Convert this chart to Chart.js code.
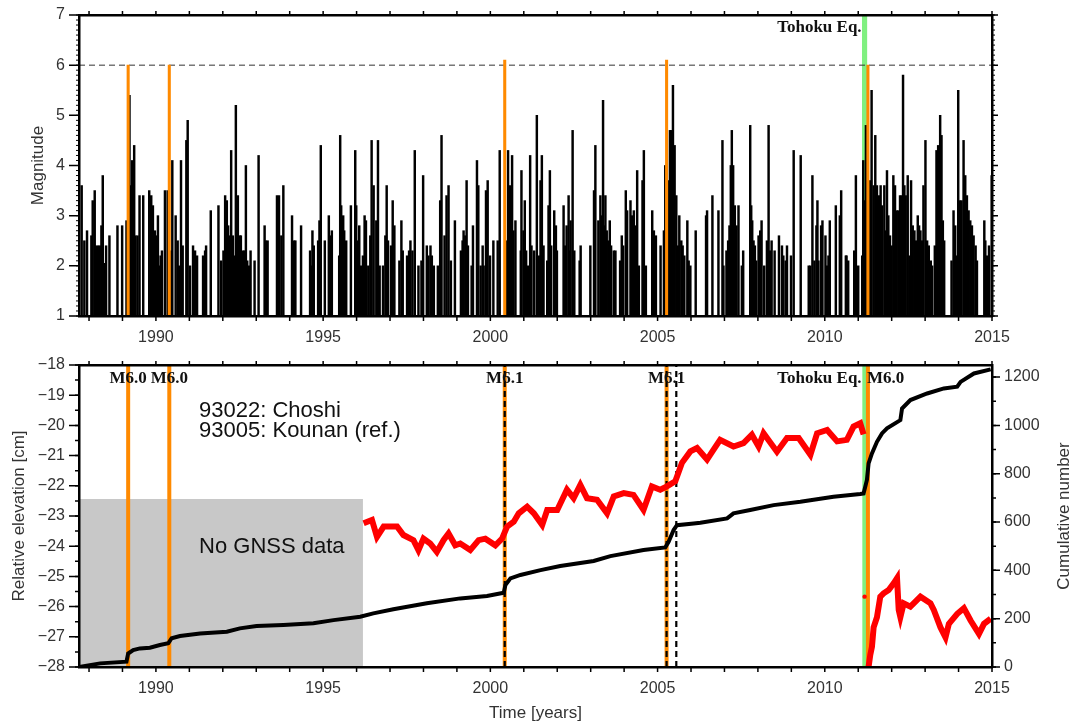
<!DOCTYPE html>
<html>
<head>
<meta charset="utf-8">
<title>Choshi seismicity and elevation</title>
<script src="https://cdn.jsdelivr.net/npm/chart.js@4.4.0/dist/chart.umd.min.js"></script>
<style>
  html, body { margin: 0; padding: 0; background: #fff; }
  canvas { position: absolute; left: 0; }
  #topChart { top: 0; }
  #bottomChart { top: 350px; }
</style>
</head>
<body>
<canvas id="topChart" width="1075" height="350"></canvas>
<canvas id="bottomChart" width="1075" height="377"></canvas>
<script>
// ---------------------------------------------------------------
// DATA
// ---------------------------------------------------------------

const X_MIN = 1987.7;
const X_MAX = 2015;
const yearLabels = [1990, 1995, 2000, 2005, 2010, 2015];
const magTicks = [1, 2, 3, 4, 5, 6, 7];
const elevTicks = [-28, -27, -26, -25, -24, -23, -22, -21, -20, -19, -18];
const cumTicks = [0, 200, 400, 600, 800, 1000, 1200];

// [decimal year, magnitude] for events drawn as black sticks
const quakes = [
  [1987.78,3.6],[1987.86,2.5],[1987.94,2.7],[1988.07,2.6],[1988.11,3.3],[1988.17,3.5],[1988.21,2.4],[1988.27,2.4],
  [1988.32,2.4],[1988.37,2.8],[1988.41,3.8],[1988.45,2.05],[1988.51,2.4],[1988.61,2.6],[1988.85,2.8],[1988.99,2.8],
  [1989.12,2.9],[1989.21,5.4],[1989.26,3.6],[1989.29,4.1],[1989.35,4.4],[1989.39,2.6],[1989.45,2.6],[1989.51,3.4],
  [1989.62,3.4],[1989.80,3.5],[1989.86,3.4],[1989.91,3.2],[1989.97,2.7],[1990.02,2.6],[1990.06,3.0],[1990.10,2.0],
  [1990.14,2.2],[1990.18,2.3],[1990.27,3.5],[1990.35,3.5],[1990.45,2.3],[1990.49,4.1],[1990.59,3.0],[1990.65,2.5],
  [1990.69,2.0],[1990.75,4.1],[1990.80,2.4],[1990.91,4.5],[1990.95,4.9],[1991.02,2.0],[1991.11,2.4],[1991.17,2.3],
  [1991.23,2.2],[1991.41,2.2],[1991.47,2.3],[1991.50,2.4],[1991.64,3.1],[1991.87,3.2],[1991.95,2.1],[1992.02,2.3],
  [1992.07,3.4],[1992.12,3.3],[1992.16,2.8],[1992.21,2.6],[1992.25,4.3],[1992.30,2.6],
  [1992.35,2.2],[1992.39,5.2],[1992.45,3.4],[1992.51,2.6],[1992.54,2.6],[1992.61,2.3],[1992.65,2.3],[1992.69,4.0],
  [1992.73,2.1],[1992.79,2.0],[1992.83,2.3],[1992.95,2.1],[1993.07,4.2],[1993.25,2.8],[1993.29,2.5],[1993.34,2.5],
  [1993.62,3.4],[1993.68,3.4],[1993.75,2.6],[1993.81,3.6],[1994.07,3.0],[1994.13,2.5],[1994.17,2.5],[1994.34,2.8],
  [1994.61,2.3],[1994.64,2.0],[1994.68,2.7],[1994.72,2.4],[1994.85,2.5],[1994.89,2.9],[1994.93,4.4],[1995.05,2.5],
  [1995.17,3.0],[1995.21,2.6],[1995.26,2.7],[1995.48,2.2],[1995.51,4.6],[1995.54,3.2],[1995.60,3.0],[1995.63,2.7],
  [1995.69,2.5],[1995.83,3.2],[1995.96,4.3],[1995.99,3.2],[1996.03,2.5],[1996.08,2.8],[1996.13,2.0],[1996.19,2.2],
  [1996.24,3.0],[1996.28,2.9],[1996.35,2.0],[1996.41,2.6],[1996.45,4.5],[1996.51,3.6],[1996.59,2.9],[1996.64,4.5],
  [1996.69,2.0],[1996.79,2.0],[1996.86,2.6],[1996.90,3.6],
  [1996.94,2.5],[1997.03,2.4],[1997.08,3.3],[1997.13,2.8],[1997.28,2.1],[1997.34,2.9],[1997.38,2.3],[1997.51,2.2],
  [1997.57,2.3],[1997.61,2.5],[1997.67,2.3],[1997.74,4.3],[1997.85,2.0],[1997.94,2.1],[1997.99,3.8],[1998.10,2.4],
  [1998.15,2.2],[1998.21,2.4],[1998.25,2.2],[1998.31,2.0],[1998.43,2.0],[1998.50,3.3],[1998.54,4.6],[1998.63,2.6],
  [1998.69,3.4],[1998.75,3.6],[1998.82,2.1],[1998.94,2.9],[1999.12,2.3],[1999.17,2.5],[1999.20,2.7],[1999.25,2.6],
  [1999.29,3.7],[1999.33,2.4],[1999.44,2.0],[1999.48,2.8],[1999.60,4.1],[1999.64,3.6],[1999.71,2.0],[1999.77,2.4],
  [1999.80,2.0],[1999.87,3.5],[1999.92,3.7],[1999.99,2.2],[2000.09,2.5],[2000.22,2.5],[2000.28,4.3],[2000.49,2.5],
  [2000.53,4.3],[2000.58,3.6],[2000.65,4.2],[2000.69,2.7],[2000.75,2.9],[2000.91,2.3],[2000.93,3.9],[2000.99,2.7],
  [2001.03,3.3],[2001.07,2.3],[2001.13,2.0],[2001.19,4.2],[2001.23,2.4],[2001.31,2.3],[2001.39,5.0],
  [2001.46,2.2],[2001.50,3.7],[2001.54,4.2],[2001.59,2.4],[2001.70,2.1],[2001.74,3.2],[2001.78,3.9],[2001.82,2.4],
  [2001.91,3.1],[2001.96,2.8],[2001.99,2.3],[2002.19,3.2],[2002.24,2.4],[2002.28,2.8],[2002.34,3.4],[2002.37,2.3],
  [2002.40,2.9],[2002.46,4.7],[2002.51,2.3],[2002.67,2.1],[2002.70,2.4],[2002.99,2.4],[2003.10,3.5],[2003.14,4.4],
  [2003.23,2.9],[2003.29,3.4],[2003.33,3.0],[2003.37,5.3],[2003.40,2.8],[2003.44,3.4],[2003.48,2.7],[2003.53,2.5],
  [2003.57,2.9],[2003.61,2.4],[2003.69,2.3],[2003.74,2.3],[2003.88,2.1],[2003.93,2.6],[2003.97,2.4],[2004.05,3.5],
  [2004.09,3.1],[2004.19,3.3],[2004.23,3.0],[2004.29,3.1],[2004.33,2.8],[2004.39,3.9],[2004.44,2.0],[2004.55,3.7],
  [2004.59,4.3],[2004.65,2.0],[2004.84,3.1],[2004.89,2.7],[2004.95,2.6],[2005.09,2.4],[2005.19,2.7],[2005.23,4.0],
  [2005.33,3.7],[2005.37,4.7],[2005.41,4.7],[2005.46,5.6],[2005.51,4.4],[2005.56,3.4],[2005.61,2.4],[2005.65,3.0],
  [2005.71,2.5],[2005.75,2.4],[2005.80,2.2],[2005.89,2.9],[2005.93,2.1],[2005.98,2.0],
  [2006.14,2.7],[2006.45,3.0],[2006.48,3.1],[2006.64,3.4],[2006.82,3.1],[2006.94,4.5],[2006.97,2.0],[2007.06,2.3],
  [2007.11,2.5],[2007.15,2.8],[2007.19,4.0],[2007.22,4.7],[2007.26,4.0],[2007.31,3.2],[2007.36,2.8],[2007.42,3.2],
  [2007.52,2.0],[2007.56,2.3],[2007.77,4.8],[2007.80,3.2],[2007.83,2.9],[2007.87,2.5],[2007.91,2.4],[2007.95,2.1],
  [2008.02,2.6],[2008.07,2.7],[2008.11,2.9],[2008.19,2.0],[2008.27,2.5],[2008.32,4.8],[2008.36,2.3],[2008.41,2.5],
  [2008.50,2.3],[2008.63,2.6],[2008.72,2.4],[2008.76,2.2],[2008.83,2.1],[2008.87,2.4],[2008.99,2.2],[2009.07,4.3],
  [2009.28,4.2],[2009.52,2.0],[2009.57,2.0],[2009.63,3.8],[2009.69,2.1],[2009.75,2.8],[2009.78,3.3],[2009.81,2.1],
  [2009.89,2.8],[2009.93,2.9],[2010.02,2.6],[2010.07,2.0],[2010.11,2.2],[2010.15,2.9],[2010.33,3.2],[2010.45,3.0],
  [2010.49,3.5],[2010.63,2.2],
  [2010.65,2.2],[2010.70,2.1],[2010.88,2.3],[2010.93,3.8],[2011.00,2.0],[2011.12,2.2],[2011.15,4.1],[2011.18,3.3],
  [2011.23,4.8],[2011.26,4.3],[2011.35,3.7],[2011.40,5.5],[2011.46,3.6],[2011.51,4.6],[2011.56,3.6],[2011.62,3.4],
  [2011.67,3.6],[2011.71,3.2],[2011.78,3.6],[2011.82,2.7],[2011.86,3.9],[2011.90,3.0],[2011.95,2.6],[2012.00,2.4],
  [2012.05,3.8],[2012.10,3.6],[2012.15,3.1],[2012.20,3.1],[2012.25,3.4],[2012.30,3.4],[2012.34,5.8],[2012.38,3.6],
  [2012.42,3.4],[2012.48,3.8],[2012.53,2.2],[2012.58,3.7],[2012.63,2.8],[2012.68,2.7],[2012.73,2.5],[2012.78,3.0],
  [2012.82,2.8],[2012.86,2.7],[2012.91,2.5],[2012.95,3.6],[2013.01,4.5],[2013.06,2.5],[2013.11,2.4],[2013.17,2.1],
  [2013.21,2.0],[2013.29,2.4],[2013.34,4.3],[2013.39,4.4],[2013.45,5.0],[2013.49,4.6],[2013.53,2.9],[2013.57,2.5],
  [2013.79,2.1],[2013.85,3.1],[2013.90,2.8],[2013.95,2.2],[2013.99,5.5],[2014.04,3.3],[2014.09,3.3],[2014.15,4.5],
  [2014.20,3.8],[2014.25,3.4],[2014.30,3.1],[2014.35,2.9],[2014.40,2.8],[2014.45,2.6],[2014.51,2.4],[2014.55,2.1],
  [2014.77,2.9],[2014.80,2.5],[2014.85,2.2],[2014.91,2.4],[2014.99,3.8]
];

// M6-class events (orange) and the Tohoku mainshock (green)
const bigQuakes = [[1989.17, 6.0], [1990.40, 6.0], [2000.43, 6.1], [2005.27, 6.1], [2011.29, 6.0]];
const bigLabels = ['M6.0', 'M6.0', 'M6.1', 'M6.1', 'M6.0'];
const tohoku = [2011.19, 9.0];
const dashedYears = [2000.43, 2005.27, 2005.56];

// 93022 Choshi relative to 93005 Kounan [cm]
const elevYears = [1996.21,1996.46,1996.61,1996.81,1997.21,1997.40,1997.70,1997.85,1998.00,1998.20,1998.40,1998.60,
  1998.75,1998.95,1999.10,1999.40,1999.65,1999.85,2000.15,2000.35,2000.50,2000.70,2000.85,2001.10,2001.30,2001.55,
  2001.70,2002.00,2002.29,2002.49,2002.69,2002.89,2003.19,2003.49,2003.69,2003.99,2004.28,2004.58,2004.83,2005.08,
  2005.28,2005.53,2005.73,2005.98,2006.18,2006.48,2006.67,2006.87,2007.27,2007.57,2007.82,2008.02,2008.17,2008.57,
  2008.87,2009.22,2009.57,2009.77,2010.07,2010.37,2010.66,2010.86,2011.06,2011.16];
const elevValues = [-23.24,-23.13,-23.69,-23.35,-23.35,-23.63,-23.80,-24.13,-23.75,-23.91,-24.19,-23.80,
  -23.58,-23.97,-23.91,-24.13,-23.80,-23.75,-23.97,-23.75,-23.35,-23.19,-22.91,-22.69,-22.91,-23.30,
  -22.80,-22.80,-22.13,-22.41,-21.97,-22.41,-22.46,-22.91,-22.35,-22.24,-22.30,-22.80,-22.02,-22.13,
  -22.02,-21.85,-21.24,-20.86,-20.75,-21.13,-20.81,-20.48,-20.70,-20.59,-20.31,-20.70,-20.26,-20.87,
  -20.42,-20.42,-20.97,-20.26,-20.15,-20.53,-20.48,-20.04,-19.93,-20.30];
const elevCoseismic = [[2011.19, -25.67]];
const elevPostYears = [2011.31,2011.36,2011.41,2011.46,2011.56,2011.66,2011.76,2011.91,2012.06,2012.16,2012.21,
  2012.26,2012.36,2012.56,2012.86,2013.16,2013.26,2013.46,2013.61,2013.71,2013.96,2014.16,2014.36,2014.61,2014.76,2014.96];
const elevPostValues = [-27.99,-27.60,-27.33,-26.69,-26.35,-25.67,-25.56,-25.45,-25.23,-25.06,-26.11,
  -26.35,-25.89,-26.00,-25.67,-25.89,-26.11,-26.69,-27.02,-26.57,-26.24,-26.05,-26.46,-26.90,-26.57,-26.40];

// cumulative number of events
const cumYears = [1987.70,1988.33,1989.12,1989.17,1989.32,1989.52,1989.82,1990.12,1990.37,1990.47,1990.72,1991.32,
  1992.12,1992.51,1993.01,1993.81,1994.71,1995.31,1996.11,1996.50,1997.10,1998.10,1999.10,1999.90,2000.40,2000.45,
  2000.60,2000.90,2001.50,2002.09,2003.09,2003.59,2004.58,2005.23,2005.33,2005.48,2005.58,2006.08,2006.28,2007.08,
  2007.27,2007.77,2008.47,2009.27,2010.26,2011.06,2011.16,2011.26,2011.31,2011.41,2011.56,2011.71,2011.86,2012.26,
  2012.31,2012.56,2013.06,2013.56,2013.96,2014.06,2014.46,2014.96];
const cumCounts = [0,15,22,56,70,77,80,91,98,119,128,139,
  146,160,170,174,181,194,208,222,239,264,284,294,307,339,
  367,381,401,418,439,459,484,495,518,567,587,594,597,615,
  636,650,670,684,705,716,718,774,843,884,932,967,988,1022,
  1070,1105,1132,1153,1160,1180,1215,1232];

// no GNSS data before this
const noGnssEnd = 1996.19;
const noGnssTop = -22.44;

// ---------------------------------------------------------------
// STYLE & HELPERS
// ---------------------------------------------------------------

const SANS = '"Liberation Sans", Arial, sans-serif';
const SERIF = '"Liberation Serif", "Times New Roman", serif';
const ORANGE = '#ff8a00';
const GREEN = '#80f080';
const tickFont = { family: SANS, size: 16 };
const titleFont = { family: SANS, size: 17 };
const noteSerif = 'bold 17px ' + SERIF;
const frame = { display: true, color: '#000', width: 2.5, z: 1 };
const noGrid = { display: false, drawTicks: false };

// fixed axis sizes; label overflow padding is dropped so the plot box stays put
const fixWidth = w => s => { s.width = w; s.paddingTop = 0; s.paddingBottom = 0; };
const fixHeight = h => s => { s.height = h; };
const setTicks = vals => s => { s.ticks = vals.map(v => ({ value: v })); };
const plainLabel = v => String(v).replace('-', '\u2212');
const pts = (xs, ys) => xs.map((x, i) => ({ x, y: ys[i] }));

// tick marks on all four sides (major + minor)
const axisTicksPlugin = {
  id: 'axisTicks',
  afterDraw(chart, args, opts) {
    const { ctx, chartArea: a } = chart;
    ctx.save();
    ctx.strokeStyle = '#000';
    (opts.marks || []).forEach(m => {
      const s = chart.scales[m.scale];
      const n = Math.round((m.to - m.from) / m.step);
      ctx.lineWidth = m.width || 1.5;
      ctx.beginPath();
      for (let i = 0; i <= n; i++) {
        const p = s.getPixelForValue(m.from + i * m.step);
        if (m.edge === 'bottom') { ctx.moveTo(p, a.bottom); ctx.lineTo(p, a.bottom + m.len); }
        if (m.edge === 'top') { ctx.moveTo(p, a.top); ctx.lineTo(p, a.top - m.len); }
        if (m.edge === 'left') { ctx.moveTo(a.left, p); ctx.lineTo(a.left - m.len, p); }
        if (m.edge === 'right') { ctx.moveTo(a.right, p); ctx.lineTo(a.right + m.len, p); }
      }
      ctx.stroke();
    });
    ctx.restore();
  }
};

// free text labels
const notesPlugin = {
  id: 'notes',
  afterDatasetsDraw(chart, args, opts) {
    const { ctx, chartArea: a } = chart;
    (opts.items || []).forEach(n => {
      const x = n.x !== undefined ? chart.scales.x.getPixelForValue(n.x) + (n.dx || 0) : chart.width - n.fromRight;
      const y = n.dy !== undefined ? a.top + n.dy : (a.top + a.bottom) / 2;
      ctx.save();
      ctx.font = n.font;
      ctx.fillStyle = n.color || '#111';
      ctx.textAlign = n.align || 'left';
      ctx.textBaseline = n.baseline || 'alphabetic';
      ctx.translate(x, y);
      if (n.rotate) ctx.rotate(n.rotate);
      ctx.fillText(n.text, 0, 0);
      ctx.restore();
    });
  }
};

function xScales(bottomHeight, title) {
  return {
    x: {
      type: 'linear', position: 'bottom', min: X_MIN, max: X_MAX, offset: false,
      grid: noGrid, border: frame,
      ticks: { font: tickFont, color: '#333', padding: 12, maxRotation: 0, autoSkip: false, callback: plainLabel },
      afterBuildTicks: setTicks(yearLabels),
      title: title ? { display: true, text: title, font: titleFont, color: '#333', padding: { top: 0, bottom: 3 } } : { display: false },
      afterFit: fixHeight(bottomHeight)
    },
    xTop: {
      type: 'linear', position: 'top', min: X_MIN, max: X_MAX, offset: false,
      grid: noGrid, border: frame, ticks: { display: false },
      afterFit: fixHeight(15)
    }
  };
}

function xTickMarks() {
  return [
    { scale: 'x', edge: 'bottom', from: 1988, to: 2015, step: 1, len: 5 },
    { scale: 'x', edge: 'top', from: 1988, to: 2015, step: 1, len: 4 }
  ];
}

// ---------------------------------------------------------------
// TOP PANEL: magnitude vs time
// ---------------------------------------------------------------

new Chart(document.getElementById('topChart'), {
  type: 'bar',
  data: {
    datasets: [
      {
        type: 'bar', label: 'M6', data: bigQuakes.map(q => ({ x: q[0], y: q[1] })),
        backgroundColor: ORANGE, barThickness: 2.4, grouped: false, order: 0, xAxisID: 'x', yAxisID: 'y'
      },
      {
        type: 'bar', label: 'events', data: quakes.map(q => ({ x: q[0], y: q[1] })),
        backgroundColor: '#000', barThickness: 1.8, grouped: false, order: 1, xAxisID: 'x', yAxisID: 'y'
      },
      {
        type: 'line', label: 'M6 level', data: [{ x: X_MIN, y: 6 }, { x: X_MAX, y: 6 }],
        borderColor: '#333', borderWidth: 1, borderDash: [6, 4], pointRadius: 0, order: 2, xAxisID: 'x', yAxisID: 'y'
      },
      {
        type: 'bar', label: 'Tohoku', data: [{ x: tohoku[0], y: tohoku[1] }],
        backgroundColor: GREEN, barThickness: 4.5, grouped: false, order: 3, xAxisID: 'x', yAxisID: 'y'
      }
    ]
  },
  options: {
    responsive: false,
    animation: false,
    events: [],
    layout: { padding: 0, autoPadding: false },
    plugins: {
      legend: { display: false },
      tooltip: { enabled: false },
      axisTicks: {
        marks: xTickMarks().concat([
          { scale: 'y', edge: 'left', from: 1, to: 7, step: 1, len: 10 },
          { scale: 'y', edge: 'left', from: 1, to: 7, step: 0.1, len: 3, width: 1 },
          { scale: 'y', edge: 'right', from: 1, to: 7, step: 0.1, len: 3, width: 1 },
          { scale: 'y', edge: 'right', from: 1, to: 7, step: 1, len: 6 }
        ])
      },
      notes: {
        items: [{ x: tohoku[0], dx: -3, dy: 17, text: 'Tohoku Eq.', align: 'right', font: noteSerif }]
      }
    },
    scales: Object.assign(xScales(34, null), {
      y: {
        type: 'linear', position: 'left', min: 1, max: 7,
        grid: noGrid, border: frame,
        ticks: { font: tickFont, color: '#333', padding: 14, callback: plainLabel },
        afterBuildTicks: setTicks(magTicks),
        title: { display: true, text: 'Magnitude', font: titleFont, color: '#333', padding: { top: 28, bottom: 0 } },
        afterFit: fixWidth(79)
      },
      yR: {
        type: 'linear', position: 'right', min: 1, max: 7,
        grid: noGrid, border: frame, ticks: { display: false },
        afterFit: fixWidth(83)
      }
    })
  },
  plugins: [axisTicksPlugin, notesPlugin]
});

// ---------------------------------------------------------------
// BOTTOM PANEL: relative elevation and cumulative number
// ---------------------------------------------------------------

const ELEV_MIN = -28, ELEV_MAX = -18;
const vline = (yr, color, width, dash, order) => ({
  type: 'line', data: [{ x: yr, y: ELEV_MIN }, { x: yr, y: ELEV_MAX }],
  borderColor: color, borderWidth: width, borderDash: dash, pointRadius: 0, order,
  xAxisID: 'x', yAxisID: 'y'
});

const bottomDatasets = [
  {
    label: 'No GNSS data', data: [{ x: X_MIN, y: noGnssTop }, { x: noGnssEnd, y: noGnssTop }],
    borderWidth: 0, pointRadius: 0, fill: 'start', backgroundColor: '#c8c8c8', order: 6,
    xAxisID: 'x', yAxisID: 'y'
  },
  vline(tohoku[0], GREEN, 4.5, [], 5),
  ...bigQuakes.map(q => vline(q[0], ORANGE, 4, [], 4)),
  ...dashedYears.map(y => vline(y, '#000', 2.2, [6, 4], 3)),
  {
    label: 'Choshi', data: pts(elevYears, elevValues),
    borderColor: '#ff0000', borderWidth: 6, pointRadius: 0, order: 2, xAxisID: 'x', yAxisID: 'y'
  },
  {
    label: 'Choshi post', data: pts(elevPostYears, elevPostValues),
    borderColor: '#ff0000', borderWidth: 6, pointRadius: 0, order: 2, xAxisID: 'x', yAxisID: 'y'
  },
  {
    label: 'Choshi coseismic', data: elevCoseismic.map(p => ({ x: p[0], y: p[1] })), showLine: false,
    pointRadius: 2.2, pointBorderWidth: 0, pointBackgroundColor: '#ff0000', order: 2, xAxisID: 'x', yAxisID: 'y'
  },
  {
    label: 'Cumulative number', data: pts(cumYears, cumCounts),
    borderColor: '#000', borderWidth: 4, pointRadius: 0, order: 1, xAxisID: 'x', yAxisID: 'y2'
  }
];

const bottomNotes = bigQuakes.map((q, i) => (
  i === bigQuakes.length - 1
    ? { x: q[0], dx: -1, dy: 18, text: bigLabels[i], align: 'left', font: noteSerif }
    : { x: q[0], dy: 18, text: bigLabels[i], align: 'center', font: noteSerif }
)).concat([
  { x: tohoku[0], dx: -3, dy: 18, text: 'Tohoku Eq.', align: 'right', font: noteSerif },
  { x: 1991.29, dy: 51.5, text: '93022: Choshi', font: '22px ' + SANS, color: '#111' },
  { x: 1991.29, dy: 71.5, text: '93005: Kounan (ref.)', font: '22px ' + SANS, color: '#111' },
  { x: 1991.29, dy: 188, text: 'No GNSS data', font: '22px ' + SANS, color: '#111' },
  { fromRight: 11, text: 'Cumulative number', font: '17px ' + SANS, color: '#333',
    align: 'center', baseline: 'middle', rotate: -Math.PI / 2 }
]);

new Chart(document.getElementById('bottomChart'), {
  type: 'line',
  data: { datasets: bottomDatasets },
  options: {
    responsive: false,
    animation: false,
    events: [],
    layout: { padding: 0, autoPadding: false },
    elements: { line: { tension: 0 } },
    plugins: {
      legend: { display: false },
      tooltip: { enabled: false },
      axisTicks: {
        marks: xTickMarks().concat([
          { scale: 'y', edge: 'left', from: -28, to: -18, step: 1, len: 10 },
          { scale: 'y', edge: 'left', from: -28, to: -18, step: 0.5, len: 4 },
          { scale: 'y2', edge: 'right', from: 0, to: 1200, step: 200, len: 8 },
          { scale: 'y2', edge: 'right', from: 0, to: 1200, step: 100, len: 4 }
        ])
      },
      notes: { items: bottomNotes }
    },
    scales: Object.assign(xScales(60, 'Time [years]'), {
      y: {
        type: 'linear', position: 'left', min: ELEV_MIN, max: ELEV_MAX,
        grid: noGrid, border: frame,
        ticks: { font: tickFont, color: '#333', padding: 14, callback: plainLabel },
        afterBuildTicks: setTicks(elevTicks),
        title: { display: true, text: 'Relative elevation [cm]', font: titleFont, color: '#333', padding: { top: 9, bottom: 0 } },
        afterFit: fixWidth(79)
      },
      y2: {
        type: 'linear', position: 'right', min: 0, max: 1250,
        grid: noGrid, border: frame,
        ticks: { font: tickFont, color: '#333', padding: 12, callback: plainLabel },
        afterBuildTicks: setTicks(cumTicks),
        afterFit: fixWidth(83)
      }
    })
  },
  plugins: [axisTicksPlugin, notesPlugin]
});
</script>
</body>
</html>
